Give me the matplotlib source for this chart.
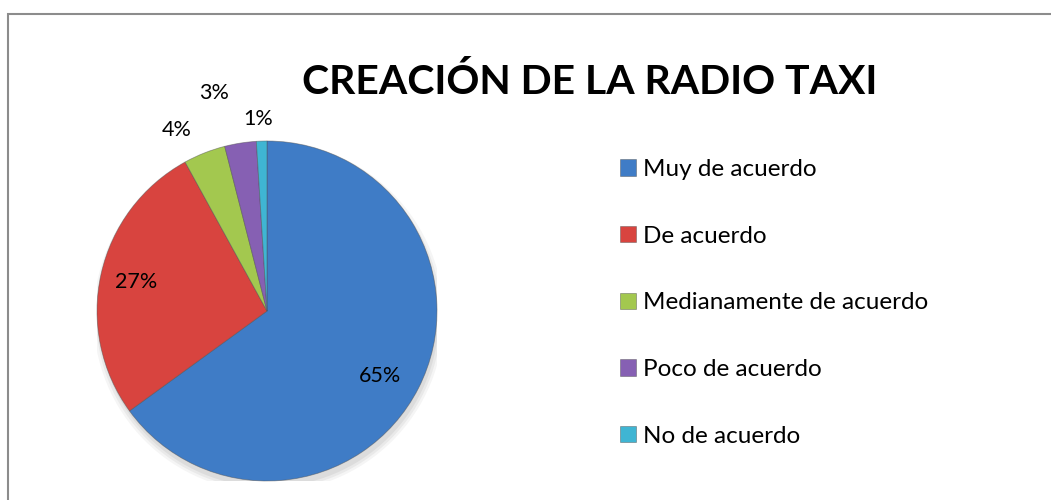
import matplotlib
matplotlib.use("Agg")
import matplotlib.pyplot as plt
from matplotlib.patches import Rectangle, Circle
import numpy as np

categories = ["Muy de acuerdo", "De acuerdo", "Medianamente de acuerdo",
              "Poco de acuerdo", "No de acuerdo"]
values = [65, 27, 4, 3, 1]
pct_labels = ["65%", "27%", "4%", "3%", "1%"]
title = "CREACIÓN DE LA RADIO TAXI"

colors = ["#3f7cc6", "#d8443f", "#a3c84f", "#8660b3", "#3fb5d3"]
label_dist = [0.767, 0.79, 1.19, 1.32, 1.13]
label_angle_shift = [-3, 0, 5, 4.6, 0.9]

plt.rcParams['font.family'] = ['Lato', 'DejaVu Sans']

W, H = 1051, 500
fig = plt.figure(figsize=(W / 100, H / 100), dpi=100)
fig.patch.set_facecolor("white")

# chart border (top and left visible)
fig.add_artist(Rectangle((8 / W, -0.1), 1.2, (500 - 14) / H + 0.1,
                         transform=fig.transFigure, fill=False,
                         edgecolor="#8c8c8c", linewidth=1.5))

cx, cy, r = 267, 311, 170
ax = fig.add_axes([(cx - r) / W, (H - cy - r) / H, 2 * r / W, 2 * r / H])

# soft shadow
for k, a in zip([1.03, 1.015, 1.0], [0.08, 0.1, 0.12]):
    ax.add_patch(Circle((0.01, -0.035), k, color="#808080", alpha=a, lw=0, zorder=0))

wedges, _ = ax.pie(values, colors=colors, startangle=90, counterclock=False,
                   radius=1.0, wedgeprops=dict(linewidth=0.6, edgecolor="#50505080"))
for w in wedges:
    w.set_zorder(2)
ax.set_xlim(-1, 1)
ax.set_ylim(-1, 1)
ax.set_aspect("equal")
ax.axis("off")

for w, lab, d, s in zip(wedges, pct_labels, label_dist, label_angle_shift):
    ang = np.deg2rad((w.theta1 + w.theta2) / 2 + s)
    x, y = d * np.cos(ang), d * np.sin(ang)
    ax.text(x, y, lab, ha="center", va="center", fontsize=15.5, color="black",
            zorder=5, clip_on=False)

fig.text(590 / W, 1 - 82 / H, title, ha="center", va="center",
         fontsize=29.4, fontweight="bold", color="black")

leg = fig.legend(wedges, categories, loc="upper left",
                 bbox_to_anchor=(620 / W, 1 - 159 / H), frameon=False,
                 fontsize=17.5, handlelength=0.65, handleheight=0.65,
                 handletextpad=0.3, labelspacing=1.88, borderaxespad=0,
                 borderpad=0)

fig.savefig("out.png", dpi=100, facecolor="white")
